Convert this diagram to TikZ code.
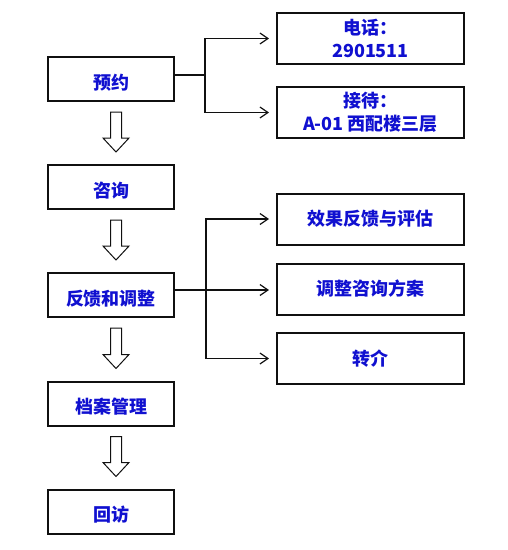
\documentclass[tikz,border=0pt]{standalone}
\usepackage{fontspec}
\setmainfont{Noto Sans CJK SC}
\usepackage{xcolor}
\usetikzlibrary{arrows.meta,calc}
\definecolor{TextBlue}{HTML}{1010D0}
\definecolor{LineBlack}{HTML}{101010}

% hollow block arrow between two stacked boxes
\newcommand{\downblock}[2]{%
  \draw[blockarr] ($(#1.south)+(-0.5,10)$) -- ($(#2.north)+(-0.5,-26)$) -- ($(#2.north)+(-8,-26)$)
    -- ($(#2.north)+(5,-12)$) -- ($(#2.north)+(18,-26)$) -- ($(#2.north)+(10.5,-26)$)
    -- ($(#1.south)+(10.5,10)$) -- cycle;}

\begin{document}
\begin{tikzpicture}[x=1pt,y=-1pt,
    basebox/.style={draw=LineBlack, line width=2pt, text=TextBlue, font=\bfseries\fontsize{18}{22.5}\selectfont,
      inner sep=0pt, align=center},
    stepbox/.style={basebox, minimum width=126pt, minimum height=44pt, text height=20pt, text depth=0pt},
    infobox/.style={basebox, minimum width=187pt, minimum height=51pt},
    conn/.style={draw=LineBlack, line width=1.4pt},
    arr/.style={conn, -{Straight Barb[length=8pt,width=11pt,line width=1.2pt]}, shorten >=7pt},
    blockarr/.style={draw=LineBlack, line width=1pt, fill=white}]
  \useasboundingbox (0,0) rectangle (508,550);

  % main steps
  \node[stepbox] (yy) at (111,79) {预约};
  \node[stepbox] (zx) at (111,187) {咨询};
  \node[stepbox] (fk) at (111,295) {反馈和调整};
  \node[stepbox] (da) at (111,403.5) {档案管理};
  \node[stepbox] (hf) at (111,511.5) {回访};

  % side boxes
  \node[infobox] (dh) at (370.5,38.5) {电话：\\2901511};
  \node[infobox] (jd) at (370.5,112.5) {接待：\\A-01 西配楼三层};
  \node[infobox] (xg) at (370.5,219) {效果反馈与评估};
  \node[infobox] (tz) at (370.5,289) {调整咨询方案};
  \node[infobox] (zj) at (370.5,358.5) {转介};

  \downblock{yy}{zx}
  \downblock{zx}{fk}
  \downblock{fk}{da}
  \downblock{da}{hf}

  % forks
  \coordinate (fork1) at (205,75);
  \draw[conn] (yy.east |- fork1) -- (fork1);
  \draw[arr] (fork1) |- (dh.west);
  \draw[arr] (fork1) |- (jd.west);

  \coordinate (fork2) at (206,290);
  \draw[arr] (fk.east |- fork2) -- (tz.west |- fork2);
  \draw[arr] (fork2) |- (xg.west);
  \draw[arr] (fork2) |- (zj.west);
\end{tikzpicture}
\end{document}
